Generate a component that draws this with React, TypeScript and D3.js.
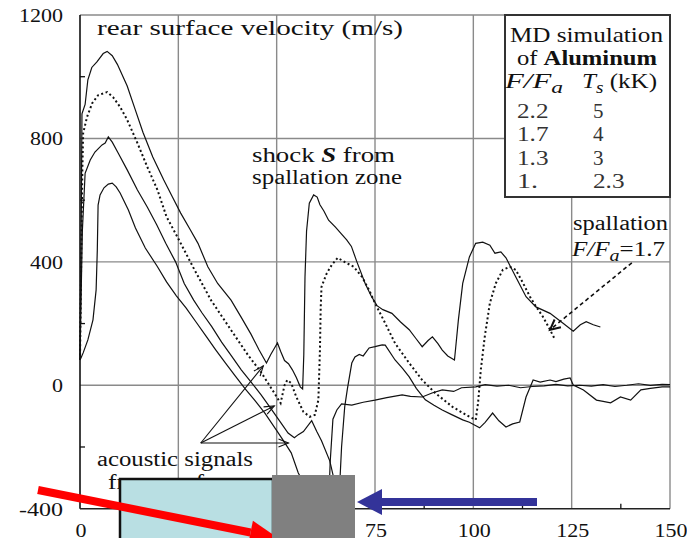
import React from 'react';
import * as d3 from 'd3';

type P = [number, number];

const W = 687;
const H = 538;

const xTickValues = [0, 25, 50, 75, 100, 125, 150];
const xTickLabels = ['0', '25', '50', '75', '100', '125', '150'];
const yTickValues = [-400, 0, 400, 800, 1200];
const yTickLabels = ['-400', '0', '400', '800', '1200'];
const xMinorTicks = [12.5, 37.5, 62.5, 87.5, 112.5, 137.5];
const yMinorTicks = [-200, 200, 600, 1000];

const legendRows = [
  ['2.2', '5'],
  ['1.7', '4'],
  ['1.3', '3'],
  ['1.', '2.3'],
];

// F/Fa = 2.2 (solid, top)
const curveA: P[] = [
  [0, 82], [0.3, 500], [0.5, 880], [1.3, 910], [2, 990], [3, 1030], [4.3, 1048], [5.9, 1075],
  [6.9, 1082], [8.2, 1068], [9.5, 1040], [12, 970], [14, 895], [16, 820], [18.5, 740], [21.3, 665],
  [23.5, 610], [25.6, 558], [28, 505], [30, 460], [32.5, 384], [35, 330], [38.4, 276], [41, 220],
  [43.5, 165], [45.5, 115], [47.4, 72], [48.5, 100], [49.2, 115], [50.2, 137], [51, 110], [52, 80],
  [53, 70], [54, 50], [55, 25], [56, -5], [56.6, -12], [56.9, 100], [57.2, 350], [57.6, 500],
  [58.3, 590], [59.4, 617], [60.3, 610], [61, 585], [62, 565], [63.2, 535], [65, 512], [66.5, 490],
  [67.8, 471], [69, 450], [70.4, 400], [72.5, 330], [74, 290], [75.5, 258], [77, 245], [79.3, 233],
  [81.5, 205], [83.7, 180], [85.5, 150], [87, 125], [88.5, 145], [89.6, 157], [91, 135], [92.1, 114],
  [93.5, 95], [95.2, 82], [95.5, 120], [96.2, 212], [97.3, 330], [99, 416], [100.6, 460], [102.4, 464],
  [104.2, 454], [105.5, 428], [107, 432], [108.3, 413], [110.8, 351], [113.4, 287], [115.9, 254],
  [119.5, 233], [122.9, 200], [125.4, 175], [127.2, 196], [128.7, 206], [130.5, 196], [132.3, 189],
];

// F/Fa = 1.7 (dotted)
const curveB: P[] = [
  [0, 82], [0.3, 400], [0.6, 700], [0.8, 817], [1.8, 870], [3.1, 914], [4.6, 940], [6.9, 950],
  [8.4, 934], [10.2, 902], [12, 860], [14.6, 785], [17.1, 708], [19.7, 633], [22, 546], [25, 475],
  [28.7, 384], [31, 330], [33.3, 276], [38.4, 179], [42.7, 98], [46, 43], [49.4, -25], [51, -58],
  [52, 0], [52.7, 17], [53.7, 7], [55, -38], [56.8, -86], [58.4, -102], [59.7, -96], [60.6, -48],
  [61, 114], [61.2, 254], [61.4, 319], [62.7, 362], [64, 390], [65.5, 413], [67.8, 396], [69.6, 384],
  [71.7, 351], [73.5, 309], [75, 266], [77.6, 201], [80.1, 136], [83.7, 72], [87, 17], [90.3, -25],
  [94.7, -70], [99, -102], [100.6, -112], [101.2, -58], [101.9, 50], [102.9, 157], [104.2, 266],
  [105.7, 330], [107.5, 374], [109.3, 384], [110.8, 374], [112.6, 332], [114.4, 287], [116, 254],
  [117.7, 222], [119.5, 180], [120.8, 147],
];

// F/Fa = 1.3 (solid)
const curveC: P[] = [
  [0, 82], [0.3, 300], [0.6, 500], [1.3, 687], [2.6, 730], [3.8, 756], [5.6, 779], [6.4, 785],
  [7.2, 805], [8.2, 788], [9.7, 753], [12, 698], [14.6, 633], [17.1, 578], [19.5, 520], [21.8, 460],
  [24.3, 400], [26.5, 330], [28.9, 276], [31, 235], [33.5, 190], [36, 140], [38.5, 95], [41, 50],
  [43.5, 10], [46, -30], [48.5, -75], [51, -120], [52.9, -155], [54.5, -170], [55.5, -160],
  [56.8, -150], [58.9, -115], [60.2, -150], [61.4, -180], [63.5, -245], [64.5, -300], [65.5, -335],
  [66, -330], [66.5, -200], [67.3, -70], [68, -10], [69.1, 72], [69.9, 92], [71, 100], [72, 95],
  [73.5, 121], [75, 125], [76.8, 131], [77.6, 130], [80.1, 82], [82, 55], [83.7, 27], [85.5, -10],
  [87.8, -47], [90, -65], [92.1, -80], [94.5, -95], [97.3, -112], [99, -120], [101.6, -138],
  [103, -120], [104.9, -90], [106.5, -115], [108.3, -135], [110, -125], [111.8, -119], [113.4, -38],
  [115.2, 17], [117, 10], [119.5, 17], [121, 12], [123, 20], [124.6, 24], [125.4, 1], [128, -15],
  [131.3, -48], [133, -52], [134.9, -57], [137.4, -38], [140, -48], [142.6, -15], [145, -10],
  [148, -5], [150, -5],
];

// F/Fa = 1.0 (solid, lowest)
const curveD: P[] = [
  [0, 82], [0.3, 90], [0.8, 105], [2, 147], [3.3, 212], [4.1, 309], [4.4, 438], [4.6, 584],
  [5.1, 617], [6.1, 640], [7.2, 652], [8.2, 655], [9.2, 643], [10.2, 623], [12.3, 568], [14.1, 510],
  [16.6, 445], [19.7, 384], [22, 335], [24.5, 290], [27, 250], [29.5, 205], [32, 160], [34.5, 115],
  [37, 72], [39.5, 30], [42, -12], [44.5, -50], [47, -90], [50.4, -154], [52, -185], [53.7, -219],
  [55.5, -284], [57, -320], [59, -350], [61, -365], [62.5, -370], [63.3, -360], [63.6, -250],
  [64.3, -110], [65.3, -80], [66.5, -60], [69.1, -64], [72, -55], [75, -48], [78, -40], [81.9, -31],
  [84, -36], [87, -38], [89.5, -25], [92.1, -15], [95, -20], [97, -8], [100.6, -5], [103, 2],
  [106, -3], [109, 0], [112, -8], [115, -4], [118, -2], [121, 3], [124, -2], [127, 0], [130, -3],
  [133, 2], [136, -4], [139, 0], [142, 5], [145, 0], [148, 3], [150, 2],
];

// annotation anchors, in data units
const acousticOrigin: P = [30.7, -187];
const acousticTips: P[] = [[46.6, 63], [49.4, -67], [53, -187]];
const spallFrom: P = [140.3, 397];
const spallTip: P = [119.5, 180];

const FONT = '"Liberation Serif"';

function headPath(from: [number, number], to: [number, number], len = 9, half = 4) {
  const dx = to[0] - from[0];
  const dy = to[1] - from[1];
  const L = Math.hypot(dx, dy);
  const ux = dx / L, uy = dy / L;
  const bx = to[0] - ux * len, by = to[1] - uy * len;
  const px = -uy, py = ux;
  return `M${bx + px * half},${by + py * half}L${to[0]},${to[1]}L${bx - px * half},${by - py * half}`;
}

export default function App() {
  const x = d3.scaleLinear().domain([0, 150]).range([80, 670]);
  const y = d3.scaleLinear().domain([-400, 1200]).range([508.7, 15]);
  const line = d3.line<P>().x((d) => x(d[0])).y((d) => y(d[1]));

  const gridColor = '#8a8a8a';
  const ao: [number, number] = [x(acousticOrigin[0]), y(acousticOrigin[1])];
  const sf: [number, number] = [x(spallFrom[0]), y(spallFrom[1])];
  const st: [number, number] = [x(spallTip[0]), y(spallTip[1])];

  const rFrom: [number, number] = [38, 490];
  const rTip: [number, number] = [278, 538];
  const rdx = rTip[0] - rFrom[0], rdy = rTip[1] - rFrom[1];
  const rL = Math.hypot(rdx, rdy);
  const rux = rdx / rL, ruy = rdy / rL;
  const rBase: [number, number] = [rTip[0] - rux * 28, rTip[1] - ruy * 28];
  const rp: [number, number] = [-ruy, rux];

  const ts = { fontFamily: FONT };

  return (
    <svg width={W} height={H} style={{ position: 'absolute', left: 0, top: 0, background: '#fff' }}>
      <rect x={0} y={0} width={W} height={H} fill="#fff" />
      {xTickValues.slice(1).map((t) => (
        <line key={'gx' + t} x1={x(t)} x2={x(t)} y1={y(1200)} y2={y(-400)} stroke={gridColor} strokeWidth={1.4} />
      ))}
      {yTickValues.slice(1).map((v) => (
        <line key={'gy' + v} x1={x(0)} x2={x(150)} y1={y(v)} y2={y(v)} stroke={gridColor} strokeWidth={1.4} />
      ))}
      <line x1={x(0)} x2={x(0)} y1={y(1200)} y2={y(-400)} stroke="#111" strokeWidth={1.6} />
      <line x1={x(0)} x2={x(150)} y1={y(-400)} y2={y(-400)} stroke="#222" strokeWidth={1.6} />
      {yMinorTicks.map((v) => (
        <line key={'my' + v} x1={x(0)} x2={x(0) + 5} y1={y(v)} y2={y(v)} stroke="#111" strokeWidth={1.3} />
      ))}
      {xMinorTicks.map((t) => (
        <line key={'mx' + t} x1={x(t)} x2={x(t)} y1={y(-400)} y2={y(-400) - 5} stroke="#111" strokeWidth={1.3} />
      ))}
      {yTickValues.map((v, i) => (
        <text
          key={'ly' + v}
          x={63}
          y={y(v) + 7}
          textAnchor="end"
          fontSize={18}
          fill="#111"
          style={ts}
          textLength={yTickLabels[i].length * 11}
          lengthAdjust="spacingAndGlyphs"
        >
          {yTickLabels[i]}
        </text>
      ))}
      {xTickValues.map((t, i) => (
        <text
          key={'lx' + t}
          x={x(t) + 1}
          y={537}
          textAnchor="middle"
          fontSize={18}
          fill="#111"
          style={ts}
          textLength={xTickLabels[i].length * 11}
          lengthAdjust="spacingAndGlyphs"
        >
          {xTickLabels[i]}
        </text>
      ))}

      <path d={line(curveD) || ''} fill="none" stroke="#111" strokeWidth={1.2} />
      <path d={line(curveC) || ''} fill="none" stroke="#111" strokeWidth={1.2} />
      <path d={line(curveA) || ''} fill="none" stroke="#111" strokeWidth={1.2} />
      <path d={line(curveB) || ''} fill="none" stroke="#111" strokeWidth={2} strokeDasharray="2,2.6" />

      <text x={97} y={35} fontSize={21} fill="#111" style={ts} textLength={306} lengthAdjust="spacingAndGlyphs">
        rear surface velocity (m/s)
      </text>

      <rect x={505} y={15} width={165} height={182} fill="#fff" stroke="#333" strokeWidth={2} />
      <text x={510} y={42} fontSize={21} fill="#111" style={ts} textLength={153} lengthAdjust="spacingAndGlyphs">
        MD simulation
      </text>
      <text x={517} y={65} fontSize={21} fill="#111" style={ts} textLength={140} lengthAdjust="spacingAndGlyphs">
        of <tspan fontWeight="bold">Aluminum</tspan>
      </text>
      <text x={505} y={88} fontSize={21} fill="#111" fontStyle="italic" style={ts} textLength={58} lengthAdjust="spacingAndGlyphs">
        F/F<tspan fontSize={16} dy={5}>a</tspan>
      </text>
      <text x={582} y={88} fontSize={21} fill="#111" style={ts} textLength={75} lengthAdjust="spacingAndGlyphs">
        <tspan fontStyle="italic">T</tspan>
        <tspan fontStyle="italic" fontSize={16} dy={5}>s</tspan>
        <tspan dy={-5}> (kK)</tspan>
      </text>
      {legendRows.map((r, i) => (
        <g key={'lr' + i} fontSize={20} fill="#333">
          <text x={517} y={118 + i * 23.3} style={ts} textLength={r[0].length * 10.5} lengthAdjust="spacingAndGlyphs">{r[0]}</text>
          <text x={593} y={118 + i * 23.3} style={ts} textLength={r[1].length * 10.5} lengthAdjust="spacingAndGlyphs">{r[1]}</text>
        </g>
      ))}

      <text x={252} y={162} fontSize={20} fill="#111" style={ts} textLength={143} lengthAdjust="spacingAndGlyphs">
        shock <tspan fontWeight="bold" fontStyle="italic">S</tspan> from
      </text>
      <text x={252} y={184} fontSize={20} fill="#111" style={ts} textLength={150} lengthAdjust="spacingAndGlyphs">
        spallation zone
      </text>
      <text x={573} y={230} fontSize={20} fill="#111" style={ts} textLength={95} lengthAdjust="spacingAndGlyphs">
        spallation
      </text>
      <text x={572} y={256} fontSize={20} fill="#111" style={ts} textLength={93} lengthAdjust="spacingAndGlyphs">
        <tspan fontStyle="italic">F/F</tspan>
        <tspan fontStyle="italic" fontSize={16} dy={5}>a</tspan>
        <tspan dy={-5}>=1.7</tspan>
      </text>
      <text x={97} y={466} fontSize={20} fill="#111" style={ts} textLength={156} lengthAdjust="spacingAndGlyphs">
        acoustic signals
      </text>
      <text x={108} y={489} fontSize={20} fill="#111" style={ts} textLength={130} lengthAdjust="spacingAndGlyphs">
        from surface
      </text>

      {acousticTips.map((tp, i) => {
        const tip: [number, number] = [x(tp[0]), y(tp[1])];
        return (
          <g key={'aa' + i} stroke="#111" strokeWidth={1.1} fill="none">
            <line x1={ao[0]} y1={ao[1]} x2={tip[0]} y2={tip[1]} />
            <path d={headPath(ao, tip, 10, 4)} />
          </g>
        );
      })}
      <g stroke="#111" fill="none">
        <line x1={sf[0]} y1={sf[1]} x2={st[0]} y2={st[1]} strokeWidth={1.6} strokeDasharray="4,3" />
        <path d={headPath(sf, st, 10, 5)} strokeWidth={2} />
      </g>

      <rect x={120} y={479} width={153} height={70} fill="#b9dfe3" stroke="#111" strokeWidth={2.5} />
      <line x1={rFrom[0]} y1={rFrom[1]} x2={rBase[0]} y2={rBase[1]} stroke="#ff0000" strokeWidth={8} />
      <polygon
        points={`${rTip[0]},${rTip[1]} ${rBase[0] + rp[0] * 12},${rBase[1] + rp[1] * 12} ${rBase[0] - rp[0] * 12},${rBase[1] - rp[1] * 12}`}
        fill="#ff0000"
      />
      <rect x={272} y={475} width={83} height={70} fill="#808080" />
      <line x1={537} y1={502} x2={380} y2={502} stroke="#333399" strokeWidth={8} />
      <polygon points="357,502 382,489 382,515" fill="#333399" />
    </svg>
  );
}
